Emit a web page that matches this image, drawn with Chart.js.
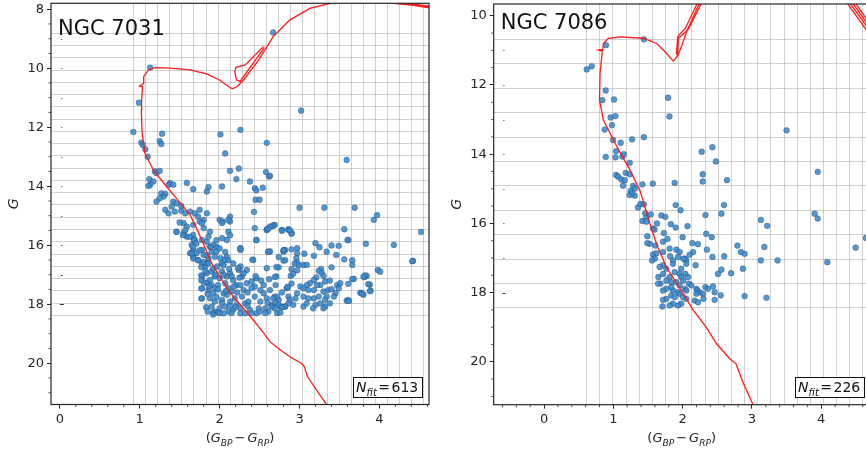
<!DOCTYPE html>
<html>
<head>
<meta charset="utf-8">
<script src="https://cdn.jsdelivr.net/npm/chart.js@4.4.0/dist/chart.umd.min.js"></script>
<style>
  html, body { margin:0; padding:0; background:#fff; overflow:hidden; }
  #wrap { position:relative; width:866px; height:454px; overflow:hidden; }
  canvas { position:absolute; top:-20px; }
  #c7031 { left:0; }
  #c7086 { left:440px; }
</style>
</head>
<body>
<div id="wrap">
  <canvas id="c7031" width="440" height="474"></canvas>
  <canvas id="c7086" width="440" height="474"></canvas>
</div>
<script>
// ---- NGC 7031 : members, colour (BP-RP) vs G ----
const stars7031 = [
  [2.67,8.79],[1.13,9.98],[0.99,11.17],[3.02,11.44],[0.92,12.16],[1.28,12.22],[2.01,12.24],[2.26,12.09],
  [1.25,12.47],[1.27,12.57],[1.02,12.52],[1.04,12.60],[1.07,12.75],[2.59,12.53],[2.07,12.89],[1.10,13.00],
  [3.59,13.11],[2.13,13.48],[2.24,13.40],[2.58,13.52],[2.62,13.67],[2.21,13.76],[2.38,13.84],[1.59,13.89],
  [2.03,14.01],[1.67,14.10],[1.86,14.03],[1.84,14.18],[2.44,14.07],[2.46,14.14],[2.54,14.05],[2.45,14.46],
  [2.50,14.46],[2.43,14.87],[3.00,14.73],[3.31,14.73],[3.69,14.73],[3.97,14.98],[3.93,15.14],[2.13,15.03],
  [1.19,13.50],[1.21,13.56],[1.25,13.48],[1.12,13.76],[1.17,13.84],[1.13,13.95],[1.11,13.99],[1.38,13.90],
  [1.36,13.95],[1.42,13.95],[1.27,14.24],[1.32,14.26],[1.30,14.35],[1.25,14.41],[1.21,14.52],[1.42,14.52],
  [1.46,14.58],[1.40,14.69],[1.32,14.80],[1.36,14.92],[1.44,14.86],[1.52,14.67],[1.52,14.83],[1.57,14.92],
  [1.63,14.86],[1.69,14.92],[1.75,14.80],[1.84,14.92],[1.73,15.03],[1.80,15.14],[1.75,15.20],[2.00,15.14],
  [2.04,15.20],[2.03,15.25],[1.55,15.25],[1.50,15.23],[1.59,15.37],[1.67,15.31],[1.46,15.54],[1.55,15.59],
  [1.59,15.71],[1.67,15.65],[1.69,15.82],[1.78,15.25],[1.80,15.42],[1.88,15.54],[1.86,15.71],[1.84,15.88],
  [1.78,15.82],[2.13,15.20],[2.11,15.54],[2.09,15.82],[2.26,16.10],[2.03,15.76],[1.96,16.05],[1.65,15.99],
  [1.67,16.16],[1.63,16.27],[1.71,16.27],[1.67,16.39],[1.78,16.16],[1.80,16.33],[1.73,16.50],[1.78,16.61],
  [1.88,16.05],[1.92,15.99],[1.90,16.22],[1.96,16.22],[1.94,16.39],[2.01,16.44],[2.03,16.61],[2.09,16.39],
  [2.07,16.50],[1.86,16.44],[1.84,16.61],[1.82,16.72],[2.42,16.50],[2.26,16.72],[2.34,16.84],[2.24,16.84],
  [2.46,17.12],[2.44,17.40],[2.51,17.52],[1.78,17.06],[1.78,17.46],[1.78,17.80],[2.44,15.42],[2.59,15.46],
  [2.67,15.34],[2.69,15.31],[2.46,15.82],[2.26,16.16],[2.61,16.22],[2.80,16.22],[2.82,16.16],[2.78,15.48],
  [2.86,15.48],[2.59,16.78],[2.71,17.06],[2.11,15.14],
  [1.84,16.95],[1.90,16.89],[1.94,17.06],[1.88,17.18],[1.84,17.29],[1.90,17.35],[1.94,17.46],[1.86,17.52],
  [1.92,17.63],[1.88,17.80],[1.94,17.91],[1.90,18.08],[1.94,18.25],[1.92,18.30],[1.98,18.28],[2.00,18.14],
  [2.03,17.85],[2.05,17.63],[1.98,17.35],[2.00,17.12],[2.03,16.89],[2.09,17.06],[2.07,17.29],[2.11,17.46],
  [2.09,17.68],[2.13,17.91],[2.07,18.08],[2.11,18.25],[2.05,18.31],[2.17,18.19],[2.21,18.02],[2.19,17.80],
  [2.15,17.57],[2.21,17.35],[2.17,17.18],[2.13,16.95],[2.23,16.78],[2.28,17.06],[2.26,17.35],[2.30,17.52],
  [2.28,17.74],[2.32,17.97],[2.26,18.14],[2.26,18.31],[2.32,18.31],[2.38,18.19],[2.36,17.91],[2.34,17.29],
  [2.40,17.23],[2.44,17.74],[2.51,17.91],[2.55,17.63],[2.59,17.80],[2.63,17.52],[2.65,18.02],[2.57,18.14],
  [2.49,18.14],[2.46,18.31],[2.61,18.25],[2.69,17.74],[2.74,17.85],[2.76,18.08],[2.82,18.08],[2.84,17.46],
  [2.86,17.74],
  [1.95,17.00],[2.05,17.00],[2.15,17.05],[2.25,17.10],[1.87,17.40],[1.98,17.50],[2.08,17.55],[2.18,17.40],
  [2.22,17.60],[2.35,17.60],[1.85,17.65],[1.96,17.75],[2.03,17.95],[2.13,18.05],[2.20,18.10],[2.35,18.05],
  [2.40,17.45],[2.55,17.35],[2.60,17.95],[2.70,17.95],[1.83,18.10],[1.85,18.25],[2.00,18.30],[2.15,18.30],
  [2.40,18.30],[2.50,18.25],[2.57,18.30],[1.82,16.88],[1.97,16.72],[2.12,16.80],[2.30,16.95],[2.17,16.62],
  [1.80,17.25],[2.45,17.05],[2.52,17.20],[2.70,17.35],[2.62,17.15],[2.78,17.60],[2.90,17.30],
  [2.63,13.65],[2.67,15.33],[2.63,15.37],[2.78,15.51],[2.86,15.46],[2.90,15.59],[3.56,15.46],[3.61,15.82],
  [3.20,15.93],[3.40,16.01],[3.25,16.07],[3.34,16.22],[3.83,15.95],[4.18,15.99],[2.80,16.18],[2.90,16.14],
  [2.97,16.10],[2.97,16.27],[3.06,16.29],[3.18,16.36],[2.63,16.21],[2.96,16.44],[2.97,16.59],[2.99,16.67],
  [3.05,16.67],[3.09,16.67],[2.80,16.52],[2.74,16.75],[2.90,16.81],[3.46,16.33],[3.56,16.48],[3.66,16.67],
  [3.40,16.75],[3.27,16.81],[3.24,16.87],[3.28,16.95],[2.89,17.04],[2.92,16.97],[4.42,16.53],[3.98,16.84],
  [4.01,16.90],[2.69,17.08],[3.81,17.08],[3.84,17.04],[3.68,17.14],[3.61,17.31],[3.88,17.34],[3.89,17.54],
  [3.78,17.63],[3.80,17.68],[2.85,17.43],[3.21,17.09],[3.18,17.18],[3.30,17.04],[3.32,17.23],[3.38,17.20],
  [3.26,17.35],[3.22,17.35],[3.13,17.29],[3.09,17.35],[3.01,17.40],[3.05,17.46],[3.11,17.52],[3.18,17.52],
  [3.30,17.57],[3.36,17.52],[3.40,17.49],[3.47,17.35],[3.49,17.46],[3.51,17.29],[3.45,17.63],[3.34,17.74],
  [3.43,17.74],[3.24,17.74],[3.18,17.80],[3.11,17.80],[3.05,17.74],[2.97,17.63],[2.95,17.80],[2.88,17.85],
  [2.92,18.02],[2.86,17.97],[2.82,18.08],[2.72,17.74],[2.67,17.80],[2.74,18.02],[2.69,18.14],[2.65,18.08],
  [2.78,18.10],[2.72,18.30],[2.76,18.28],[3.05,18.08],[3.09,17.97],[3.20,18.02],[3.26,17.97],[3.32,18.08],
  [3.38,17.97],[3.32,17.85],[3.30,18.14],[3.59,17.88],[3.17,18.14],
  [4.52,15.55],[4.41,16.54],[3.82,17.02],[3.80,17.07],[3.86,17.32],[3.76,17.61],[3.78,17.64],[3.88,17.56],
  [3.61,17.86],[3.62,17.89],[3.49,16.02],[3.60,15.83],[3.66,16.51],[3.66,17.15],
  [1.46,15.55],[1.54,15.66],[1.57,15.49],[1.63,15.72],[1.68,15.83],[1.71,15.94],[1.67,16.06],[1.75,16.17],
  [1.65,16.28],[1.67,16.45],[1.73,16.51],[1.80,16.57],[1.77,16.74],[1.86,16.62],[1.92,16.79],[1.84,16.34],
  [1.89,16.06],[1.96,15.83],[2.00,16.11],[2.07,16.23],[2.11,16.51],[2.05,16.68],[2.13,15.66],[1.77,17.02],
  [1.77,17.19],[1.77,17.47],[1.77,17.81],[1.92,18.35],[2.26,16.11],[2.41,16.49],[2.46,15.83],[2.59,15.49],
  [2.61,15.44],[2.61,16.23],[2.71,16.74],[2.74,16.40],[2.80,16.17],[2.82,16.51],[2.90,15.61],[2.88,15.49],
  [2.85,17.41],[2.94,16.62],[2.97,16.85]
];
// isochrone tracks (several branches)
const iso7031Main = [
  [3.35,21.45],[3.10,20.46],[3.06,20.12],[3.03,20.02],[2.88,19.78],[2.76,19.55],[2.63,19.27],[2.54,18.94],
  [2.38,18.40],[2.17,17.74],[2.03,17.18],[1.90,16.61],[1.82,16.10],[1.73,15.54],[1.63,14.97],[1.46,14.41],
  [1.32,13.96],[1.17,13.45],[1.065,12.88],[1.03,12.20],[1.02,11.41],[1.024,11.07],[1.036,10.62],[1.00,10.60],
  [1.045,10.52],[1.05,10.28],[1.11,10.06],[1.19,9.98],[1.38,10.00],[1.63,10.06],[1.84,10.19],[2.00,10.40],
  [2.11,10.62],[2.16,10.70],[2.22,10.62],[2.30,10.40],[2.38,10.11],[2.49,9.72],[2.67,8.93],[2.88,8.36],
  [3.13,7.97],[3.38,7.80],[3.70,7.70],[4.00,7.70],[4.30,7.80],[4.64,7.92]
];
const iso7031Loop = [
  [2.548,9.27],[2.32,9.89],[2.205,9.97],[2.19,10.11],[2.21,10.40],[2.256,10.45],[2.42,9.83],[2.56,9.30]
];
const iso7031Agb = [
  [4.10,7.78],[4.40,7.82],[4.64,7.90],[4.64,7.96],[4.40,7.86],[4.20,7.81]
];
const errG7031 = [9,10,11,12,13,14,15,16,17,18];
const errC7031 = [0.003,0.003,0.003,0.004,0.004,0.005,0.006,0.008,0.012,0.025];
const nfit7031 = 613;

// ---- NGC 7086 ----
const stars7086 = [
  [1.44,10.68],[0.894,10.85],[0.616,11.55],[0.688,11.46],[0.89,12.16],[0.84,12.44],[1.01,12.42],[1.79,12.37],
  [0.96,12.94],[1.03,12.90],[1.81,12.91],[0.98,13.16],[0.875,13.29],[3.50,13.31],[0.995,13.59],[1.106,13.67],
  [1.27,13.57],[1.44,13.51],[1.04,13.91],[0.89,14.08],[1.03,14.09],[1.13,14.07],[1.15,14.00],[1.236,14.25],
  [2.275,13.93],[2.43,13.80],[2.48,14.21],[3.95,14.51],[1.04,14.60],[1.07,14.65],[1.18,14.54],[1.236,14.58],
  [1.116,14.73],[1.164,14.75],[1.14,14.91],[1.284,14.92],[1.42,14.87],[1.57,14.85],[1.885,14.83],[2.29,14.58],
  [2.29,14.79],[2.64,14.75],[1.25,15.06],[1.31,14.99],[1.236,15.18],[1.31,15.20],[1.274,15.13],[1.356,15.54],
  [1.39,15.44],[1.44,15.45],[1.90,15.47],[1.97,15.62],[2.597,15.47],[2.56,15.72],[1.46,15.71],[1.476,15.83],
  [1.54,15.74],[1.42,15.93],[1.476,15.95],[1.693,15.77],[1.75,15.81],[1.83,16.02],[1.63,16.00],[2.07,16.08],
  [2.33,15.76],[3.13,15.90],[3.22,16.07],[3.905,15.72],[3.95,15.86],
  [1.573,16.15],[1.596,16.18],[1.73,16.28],[2.34,16.30],[2.42,16.40],[1.49,16.37],[1.525,16.59],[1.49,16.57],
  [1.606,16.64],[1.717,16.53],[1.573,16.90],[1.62,16.86],[1.60,17.02],[1.558,17.07],[1.717,16.83],[1.813,16.73],
  [1.91,16.76],[1.957,16.83],[1.933,16.97],[1.86,17.07],[1.82,16.95],[2.14,16.57],[2.15,16.83],[2.10,16.91],
  [2.03,17.02],[2.05,17.07],[2.01,17.02],[2.35,16.76],[2.43,16.97],[2.188,17.21],[2.053,17.17],[1.98,17.31],
  [1.957,17.46],[1.86,17.17],[1.885,17.41],[1.813,17.55],[1.765,17.31],[1.717,17.21],[1.669,17.26],[1.717,17.46],
  [1.65,17.55],[1.68,17.74],[1.765,17.65],[1.837,17.70],[1.909,17.70],[1.98,17.55],[2.04,17.46],[2.077,17.55],
  [2.09,17.74],[2.006,17.65],[1.957,17.79],[1.933,17.99],[1.86,17.94],[1.837,17.84],[1.765,17.89],[1.717,17.94],
  [1.645,17.74],[1.837,18.08],[1.885,18.13],[1.957,18.03],[2.03,17.89],[2.053,17.94],[2.125,17.79],[2.198,17.89],
  [2.21,17.94],[2.246,17.99],[2.198,18.03],[2.294,18.03],[2.33,17.84],[2.366,17.89],[2.438,17.82],[2.462,17.99],
  [2.462,18.21],[2.30,18.18],[2.174,18.23],[2.222,18.28],[2.053,18.18],[2.006,18.13],[1.98,18.32],[1.933,18.37],
  [1.86,18.32],[1.813,18.37],[1.765,18.18],[1.717,18.21],[1.707,18.40],
  [2.55,18.08],[2.51,17.46],[2.56,17.34],[2.70,17.44],[2.79,16.64],[2.84,16.83],[2.895,16.88],[2.87,17.31],
  [2.895,18.10],[3.13,17.07],[3.37,17.07],[3.18,16.68],[3.21,18.15],[4.088,17.12],[4.497,16.70],[4.646,16.42],
  [1.90,16.12],[2.00,16.40],[1.78,16.45],[2.22,16.60],[2.60,16.95]
];
const iso7086Main = [
  [3.03,21.30],[2.87,20.59],[2.77,20.06],[2.68,19.91],[2.49,19.48],[2.34,19.00],[2.15,18.50],[2.03,18.10],
  [1.93,17.78],[1.77,17.28],[1.64,16.68],[1.55,16.15],[1.47,15.62],[1.39,15.08],[1.24,14.46],[1.05,13.78],
  [0.856,13.01],[0.80,12.44],[0.808,11.67],[0.832,11.18],[0.84,11.02],[0.784,10.99],[0.847,10.97],[0.856,10.80],
  [0.928,10.65],[1.097,10.61],[1.43,10.65],[1.626,10.80],[1.746,11.04],[1.866,11.31],[1.93,11.15],[1.99,10.85],
  [2.06,10.45],[2.25,9.60]
];
const iso7086Loop = [
  [2.22,9.60],[2.04,10.36],[1.93,10.60],[1.91,11.08],[1.925,11.14],[1.94,10.65],[2.08,10.40],[2.28,9.60]
];
const iso7086Agb = [
  [[4.37,9.62],[4.72,10.60]],
  [[4.41,9.62],[4.72,10.48]],
  [[4.45,9.62],[4.72,10.38]],
  [[4.49,9.62],[4.72,10.28]]
];
const errG7086 = [11,12,13,14,15,16,17,18];
const errC7086 = [0.003,0.003,0.004,0.004,0.005,0.006,0.008,0.02];
const nfit7086 = 226;

const FONT = '"DejaVu Sans", sans-serif';
const INK = '#262626';

function range(start, step, n) {
  const out = [];
  for (let i = 0; i < n; i++) out.push(start + i * step);
  return out;
}

// mathtext-like run of pieces: [text, italic, subscript, gapAfter]
function mathFont(p, size) {
  return (p[1] ? 'italic ' : '') + (p[2] ? size * 0.7 : size) + 'px ' + FONT;
}
function mathWidth(ctx, parts, size) {
  let w = 0;
  parts.forEach(p => { ctx.font = mathFont(p, size); w += ctx.measureText(p[0]).width + (p[3] || 0); });
  return w;
}
function drawMath(ctx, parts, x, y, size, align) {
  const w = mathWidth(ctx, parts, size);
  let cx = align === 'center' ? x - w / 2 : x;
  ctx.textAlign = 'left';
  ctx.textBaseline = 'alphabetic';
  parts.forEach(p => {
    ctx.font = mathFont(p, size);
    ctx.fillText(p[0], cx, y + (p[2] ? size * 0.28 : 0));
    cx += ctx.measureText(p[0]).width + (p[3] || 0);
  });
  return w;
}

const cmdPlugin = {
  id: 'cmd',
  beforeDatasetsDraw(chart, args, o) {
    const {ctx, chartArea: a, scales: {x, y}} = chart;
    ctx.save();
    ctx.beginPath();
    ctx.rect(a.left, a.top, a.width, a.height);
    ctx.clip();
    ctx.strokeStyle = 'rgba(170,170,170,0.55)';
    ctx.lineWidth = 1;
    o.gridX.forEach(v => {
      const p = Math.round(x.getPixelForValue(v)) + 0.5;
      ctx.beginPath(); ctx.moveTo(p, a.top); ctx.lineTo(p, a.bottom); ctx.stroke();
    });
    o.gridY.forEach(v => {
      const p = Math.round(y.getPixelForValue(v)) + 0.5;
      ctx.beginPath(); ctx.moveTo(a.left, p); ctx.lineTo(a.right, p); ctx.stroke();
    });
    // photometric error bars at the left
    ctx.strokeStyle = '#333';
    o.errG.forEach((g, i) => {
      const py = Math.round(y.getPixelForValue(g)) + 0.5;
      let x0 = x.getPixelForValue(o.errX - o.errC[i]);
      let x1 = x.getPixelForValue(o.errX + o.errC[i]);
      if (x1 - x0 < 1) { const m = (x0 + x1) / 2; x0 = m - 0.5; x1 = m + 0.5; }
      ctx.beginPath(); ctx.moveTo(x0, py); ctx.lineTo(x1, py); ctx.stroke();
    });
    ctx.restore();
  },
  afterDatasetsDraw(chart, args, o) {
    const {ctx, chartArea: a, scales: {x, y}} = chart;
    ctx.save();
    // spines
    ctx.strokeStyle = INK;
    ctx.lineWidth = 1.2;
    ctx.strokeRect(a.left, a.top, a.width, a.height);
    // minor ticks
    ctx.lineWidth = 0.8;
    ctx.beginPath();
    for (let v = Math.ceil(x.min / 0.2) * 0.2; v <= x.max; v += 0.2) {
      if (Math.abs(v - Math.round(v)) < 1e-6) continue;
      const p = x.getPixelForValue(v);
      ctx.moveTo(p, a.bottom); ctx.lineTo(p, a.bottom + 2.5);
    }
    for (let v = Math.ceil(y.min / 0.5) * 0.5; v <= y.max; v += 0.5) {
      if (Math.abs(v / 2 - Math.round(v / 2)) < 1e-6) continue;
      const p = y.getPixelForValue(v);
      ctx.moveTo(a.left, p); ctx.lineTo(a.left - 2.5, p);
    }
    ctx.stroke();
    // cluster name
    ctx.fillStyle = '#111';
    ctx.font = '21px ' + FONT;
    ctx.textAlign = 'left';
    ctx.textBaseline = 'alphabetic';
    ctx.fillText(o.name, a.left + 7, a.top + o.nameDy);
    // N_fit box
    const parts = [['N', true, false, 0], ['fit', true, true, 1.5], ['=', false, false, 1.5], [String(o.nfit), false, false, 0]];
    const w = mathWidth(ctx, parts, 14);
    const bw = w + 7, bh = 20;
    const bx = o.boxRight - bw, by = a.bottom - 7.5 - bh;
    ctx.fillStyle = '#fff';
    ctx.fillRect(bx, by, bw, bh);
    ctx.strokeStyle = '#111';
    ctx.lineWidth = 1;
    ctx.strokeRect(Math.round(bx) + 0.5, Math.round(by) + 0.5, Math.round(bw), bh);
    ctx.fillStyle = '#111';
    drawMath(ctx, parts, bx + 3.5, by + 15, 14, 'left');
    // axis titles
    ctx.fillStyle = INK;
    drawMath(ctx, [['(', false, false, 0], ['G', true, false, 0], ['BP', true, true, 2], ['\u2212', false, false, 2],
      ['G', true, false, 0], ['RP', true, true, 0], [')', false, false, 0]], (a.left + a.right) / 2, a.bottom + 37.5, 13, 'center');
    ctx.translate(o.gLabelX, (a.top + a.bottom) / 2);
    ctx.rotate(-Math.PI / 2);
    drawMath(ctx, [['G', true, false, 0]], 0, 0, 14, 'center');
    ctx.restore();
  }
};

function makeCMD(id, c) {
  const toXY = arr => arr.map(p => ({x: p[0], y: p[1]}));
  const isoSets = c.iso.map(line => ({
    type: 'scatter', data: toXY(line), showLine: true, pointRadius: 0,
    borderColor: '#ff1a1a', borderWidth: 1.3, tension: 0, order: 0
  }));
  return new Chart(document.getElementById(id), {
    type: 'scatter',
    data: {
      datasets: isoSets.concat([{
        data: toXY(c.stars), order: 1,
        pointRadius: 2.9, pointBorderWidth: 0.5,
        pointBackgroundColor: 'rgba(58,138,204,0.88)', pointBorderColor: 'rgba(30,50,80,0.65)'
      }])
    },
    plugins: [cmdPlugin],
    options: {
      responsive: false, animation: false,
      layout: {padding: {left: 0, top: c.top, right: c.right, bottom: 0}},
      plugins: {
        legend: {display: false}, tooltip: {enabled: false},
        cmd: c.decor
      },
      scales: {
        x: {
          type: 'linear', min: c.xMin, max: c.xMax,
          afterFit: s => { s.height = c.xHeight; },
          border: {display: false},
          grid: {drawOnChartArea: false, drawTicks: true, tickLength: 4, tickColor: INK, lineWidth: 1},
          ticks: {stepSize: 1, includeBounds: false, padding: 3, color: INK, font: {family: FONT, size: 13}}
        },
        y: {
          type: 'linear', reverse: true, min: c.yMin, max: c.yMax,
          afterFit: s => { s.width = c.yWidth; },
          border: {display: false},
          grid: {drawOnChartArea: false, drawTicks: true, tickLength: 4, tickColor: INK, lineWidth: 1},
          ticks: {stepSize: 2, includeBounds: false, padding: 3, color: INK, font: {family: FONT, size: 13}}
        }
      }
    }
  });
}

// canvases sit 20px above the page top so the plot frames reach the edge
makeCMD('c7031', {
  stars: stars7031, iso: [iso7031Main, iso7031Loop, iso7031Agb],
  xMin: -0.11, xMax: 4.62, yMin: 7.8, yMax: 21.4,
  top: 23.3, right: 11, xHeight: 49.5, yWidth: 51,
  decor: {
    gridX: range(0.915, 0.1514, 25), gridY: range(8.80, 0.4157, 24),
    errG: errG7031, errC: errC7031, errX: 0.025,
    name: 'NGC 7031', nameDy: 31.7, nfit: nfit7031, boxRight: 421.7, gLabelX: 18
  }
});

makeCMD('c7086', {
  stars: stars7086, iso: [iso7086Main, iso7086Loop].concat(iso7086Agb),
  xMin: -0.727, xMax: 4.7, yMin: 9.66, yMax: 21.24,
  top: 24, right: 10.3, xHeight: 49.3, yWidth: 53.7,
  decor: {
    gridX: range(0.606, 0.19, 23), gridY: range(10.67, 0.705, 12),
    errG: errG7086, errC: errC7086, errX: -0.58,
    name: 'NGC 7086', nameDy: 25.3, nfit: nfit7086, boxRight: 423.7, gLabelX: 21
  }
});
</script>
</body>
</html>
